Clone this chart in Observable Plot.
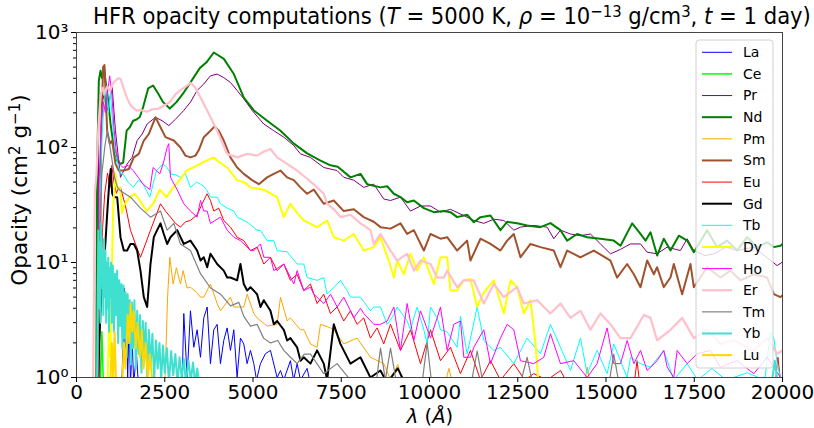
<!DOCTYPE html>
<html>
<head>
<meta charset="utf-8">
<script src="https://cdn.jsdelivr.net/npm/d3@7"></script>
<script src="https://cdn.jsdelivr.net/npm/@observablehq/plot@0.6"></script>
<style>
  body { margin: 0; background: #fff; overflow: hidden; }
  #wrap { position: relative; width: 814px; height: 428px; font-family: "DejaVu Sans", sans-serif; color: #000; }
  #wrap svg { position: absolute; left: 0; top: 0; }
  .lbl { position: absolute; white-space: nowrap; line-height: 1; }
  .lbl sup { font-size: 0.7em; vertical-align: 0.45em; line-height: 0; }
  #title { left: 93px; top: 5px; font-size: 23px; transform: scaleX(0.92); transform-origin: 0 0; }
  #ylab { left: 20px; top: 190px; font-size: 21.5px; transform: translate(-50%, -50%) rotate(-90deg); }
  #xlab { left: 430px; top: 407px; font-size: 19.5px; transform: translateX(-50%); }
</style>
</head>
<body>
<div id="wrap"></div>
<script>
// ---- data: [wavelength (Å), opacity (cm^2 g^-1)] ----
const elements = ["La","Ce","Pr","Nd","Pm","Sm","Eu","Gd","Tb","Dy","Ho","Er","Tm","Yb","Lu"];
const colors = ["#0000ff","#00ff00","#800080","#008000","#ffa500","#a0522d","#ff0000","#000000","#00ffff","#ffff00","#ff00ff","#ffc0cb","#808080","#40e0d0","#ffd700"];
const widths = [1,1.5,1,2,1,2,1,2,1,2,1,2.2,1.2,2,2];

const xTicks = [0,2500,5000,7500,10000,12500,15000,17500,20000];
const yTicks = [1,10,100,1000];
const yTickLabels = ["10⁰","10¹","10²","10³"];
const yMinorTicks = [2,3,4,5,6,7,8,9,20,30,40,50,60,70,80,90,200,300,400,500,600,700,800,900];

const La = [[1280,0.8],[1320,2],[1350,6],[1380,1.5],[1420,4],[1450,1],[1490,3],[1530,0.9],[1580,2],[1620,0.9],[1700,1.6],[1750,0.9],[2992,0.9],[3040,3.6],[3134,1],[3228,3.8],[3323,1.83],[3417,2.6],[3512,1.5],[3606,3.3],[3702,4.1],[3795,1.32],[3889,2.6],[3984,2.9],[4078,1.32],[4172,2.1],[4267,2.7],[4361,1.72],[4456,2.6],[4550,1.0],[4644,2.2],[4739,1.96],[4833,1.32],[4928,1.72],[5023,1.32],[5100,0.95],[5211,1.32],[5352,1.61],[5494,1.72],[5683,1.0],[5779,1.15],[5870,0.95],[6060,1.4],[6150,0.95],[6251,1.32],[6345,0.95],[6532,1.2],[6620,0.9]];
const Ce = [[600,0.8],[640,1.5],[680,0.9],[720,2.5],[760,0.9]];
const Pr = [[600,0.8],[632,272],[700,225],[774,283],[868,210],[1010,334],[1104,140],[1246,55],[1340,63],[1435,72],[1576,82],[1718,115],[1860,131],[2001,160],[2237,183],[2426,171],[2615,155],[2804,176],[3040,210],[3228,248],[3417,313],[3606,357],[3795,420],[3984,435],[4172,405],[4361,368],[4550,313],[4739,265],[4975,210],[5305,160],[5588,140],[5872,123],[6155,104],[6343,88],[6627,82],[7004,67],[7382,63],[7571,55],[7854,52],[8137,45],[8420,48],[8704,35.7],[8895,34.6],[9178,37],[9462,28],[9745,31],[10028,31],[10311,27.4],[10594,29],[10972,25.6],[11255,23.2],[11538,21.9],[11822,23.8],[12105,23.2],[12388,19.1],[12577,20.3],[12954,21],[13332,20.3],[13521,16.1],[13710,19.1],[13993,17.7],[14276,17.1],[14559,17.7],[14842,14.5],[15126,11.9],[15409,13],[15692,14.5],[15977,14.5],[16164,12.3],[16447,11.9],[16730,13.6],[17108,12.7],[17299,16.1],[17488,12.7],[17800,11.5],[18054,11.9],[18400,13.6],[18715,12.7],[19187,13.6],[19565,11],[19848,9.4],[20000,10.1]];
const Nd = [[560,0.8],[585,63],[632,380],[680,465],[727,400],[774,500],[821,380],[887,272],[963,162],[1057,100],[1152,77],[1246,72],[1322,74],[1420,140],[1510,150],[1605,171],[1700,175],[1794,184],[1888,225],[2030,326],[2171,346],[2313,295],[2454,248],[2643,218],[2832,248],[3021,295],[3257,380],[3493,490],[3682,550],[3890,670],[4174,590],[4457,435],[4740,272],[5023,210],[5401,171],[5779,140],[6157,108],[6534,89],[6912,77],[7196,70],[7400,68],[7762,55],[8046,59],[8234,48],[8612,45],[8801,46],[8990,39.6],[9178,37],[9367,33.4],[9556,34.6],[9840,29.7],[10122,27.4],[10406,28],[10594,27.4],[10783,24.8],[11066,26],[11255,22.4],[11444,24.8],[11727,25.6],[12010,19.1],[12199,22.6],[12482,21.9],[12766,21],[13143,20.3],[13426,22],[13710,19.1],[13898,15.5],[14182,17.7],[14465,16.6],[14842,16.1],[15220,15.5],[15411,14],[15741,21.9],[15977,17.7],[16119,15.5],[16261,18.3],[16449,11.5],[16638,16.1],[16827,12.7],[17063,17.1],[17299,15.5],[17488,12.3],[17865,19.1],[18149,13.6],[18432,15.5],[18715,12.7],[18998,16.6],[19282,13.6],[19565,15],[19754,13.6],[19943,14],[20000,14.5]];
const Pm = [[2500,0.8],[2580,5],[2643,11.1],[2738,6.5],[2830,9],[2945,6.5],[3021,8.5],[3130,6],[3228,6.1],[3400,5.5],[3513,5],[3606,5.0],[3796,6.5],[3984,4.4],[4080,3.8],[4361,5],[4457,4.1],[4739,4.1],[4835,5.3],[5023,3.6],[5116,3.3],[5401,2.8],[5683,2.9],[5779,5.0],[5967,3.1],[6060,3.3],[6345,2.6],[6438,2.6],[6628,1.96],[6816,1.83],[6912,2.9],[7193,2.7],[7290,2.6],[7571,1.96],[7948,2.2],[8326,1.5],[8704,1.32],[8900,0.95],[9100,1.3],[9250,0.9],[10450,0.9],[10550,1.2],[10650,0.9],[14400,0.9],[14466,1.23],[14550,0.9]];
const Sm = [[640,0.8],[700,140],[755,500],[793,520],[831,272],[868,140],[944,108],[1010,115],[1104,72],[1199,63],[1340,63],[1482,65],[1624,82],[1765,88],[1907,115],[2048,131],[2237,183],[2379,150],[2520,123],[2756,115],[2945,100],[3087,85],[3228,82],[3370,85],[3464,95],[3606,123],[3795,140],[3908,152],[4031,140],[4172,115],[4361,82],[4550,67],[4739,59],[4975,52],[5164,48],[5400,55],[5588,59],[5777,63],[5966,55],[6155,52],[6343,45],[6532,39.6],[6721,43],[7004,32.4],[7288,34.6],[7571,28],[7854,29],[8137,24.8],[8420,22.6],[8612,20.3],[8895,19.7],[9178,21.9],[9367,17.7],[9556,19.1],[9840,12.7],[10028,17.7],[10311,16.1],[10500,16.6],[10783,12.7],[11066,15.5],[11161,10.4],[11444,16.1],[11727,14.5],[12010,12.7],[12199,15.5],[12388,17.7],[12577,11.1],[12860,14.5],[13143,13.6],[13521,12.7],[13710,9.1],[13898,12.7],[14276,11.1],[14654,12.7],[15126,10.4],[15314,7.4],[15598,9.7],[15789,7.9],[15977,6.1],[16166,10.4],[16355,7.9],[16447,9.1],[16636,6.1],[16827,7.4],[16921,9.7],[17157,5.3],[17393,9.7],[17488,6.1],[17865,9.1],[18243,7.4],[18526,8.5],[18809,7.0],[19187,7.9],[19565,7.4],[19754,5.3],[19943,5.0],[20000,5.2]];
const Eu = [[620,0.8],[680,5],[740,20],[800,40],[880,60],[950,45],[1000,70],[1060,50],[1130,40],[1200,45],[1246,45],[1388,31],[1529,19.1],[1671,14.5],[1812,11.1],[1954,14.5],[2096,19.1],[2237,24.8],[2379,32.4],[2520,28],[2662,24.8],[2804,21.9],[2945,20.3],[3087,22.6],[3228,23.2],[3417,26],[3559,32.4],[3700,39.6],[3795,34.6],[3889,28],[4031,29.7],[4172,23.2],[4361,20.3],[4550,16.6],[4739,15.5],[4928,12.7],[5116,13.6],[5305,9.7],[5494,11.1],[5683,8.5],[5872,9.7],[6060,7.0],[6249,7.9],[6438,5.7],[6627,6.5],[6816,4.4],[7004,5.3],[7193,3.6],[7382,4.1],[7571,3.1],[7760,3.8],[7948,2.9],[8137,3.3],[8326,2.2],[8515,2.7],[8704,1.96],[8895,2.9],[9178,1.72],[9462,2.6],[9745,1.32],[10028,2.6],[10311,1.4],[10594,1.83],[10877,1.08],[11161,1.72],[11444,0.95],[11727,1.4],[12010,0.95],[12388,1.32],[12700,0.95],[12954,1.08],[13332,0.95],[13710,1.15],[13898,0.9],[15800,0.9],[15880,1.4],[15950,0.9],[19800,0.9],[19870,1.5],[19950,0.9]];
const Gd = [[600,0.8],[640,2],[700,5],[760,8],[820,15],[880,30],[930,50],[970,65],[1010,40],[1060,37],[1152,37],[1246,16.6],[1340,12.7],[1435,12.7],[1529,14.5],[1624,14.5],[1718,12.7],[1812,8.5],[1907,5.0],[2001,4.1],[2096,9.7],[2190,16.6],[2284,19.1],[2379,21.9],[2473,17.7],[2568,14.5],[2662,16.6],[2851,19.1],[3040,14.5],[3228,15.5],[3417,12.7],[3513,10.4],[3606,11.1],[3702,9.1],[3795,11.9],[3984,9.7],[4172,8.5],[4268,7.4],[4361,7.4],[4550,7.0],[4644,9.7],[4739,6.5],[4835,5.7],[4928,6.1],[5116,5.3],[5212,4.1],[5305,4.7],[5494,3.8],[5590,2.9],[5683,3.1],[5872,2.6],[5967,2.1],[6060,2.2],[6249,1.83],[6345,1.4],[6438,1.5],[6627,1.32],[6816,1.72],[7004,1.32],[7100,0.95],[7288,2.9],[7476,1.96],[7760,1.32],[8043,1.5],[8326,1.0],[8609,1.15],[8800,0.9],[9100,1.2],[9300,0.9]];
const Tb = [[600,0.8],[650,20],[720,120],[780,250],[850,330],[900,200],[960,300],[1030,150],[1100,90],[1180,70],[1250,60],[1322,59],[1460,50],[1605,45],[1750,52],[1888,48],[2077,37],[2266,63],[2454,72],[2568,67],[2662,59],[2800,58],[2945,55],[3080,60],[3228,45],[3400,50],[3513,48],[3606,46],[3702,42],[3795,37],[3985,37],[4078,32.4],[4268,29.7],[4456,28],[4551,24.8],[4833,22.5],[5118,19.1],[5211,19],[5401,15.5],[5588,15.5],[5684,12.7],[5966,12.4],[6251,9.7],[6438,9.7],[6534,7.4],[6817,7],[7004,7.4],[7100,5.3],[7384,6.5],[7479,7],[7665,5.7],[7762,5],[8043,5],[8329,3.8],[8420,4.1],[8612,4.1],[8801,2.9],[8990,3.5],[9084,4.1],[9273,3.4],[9367,3.1],[9462,2.6],[9556,3.3],[9650,4.1],[9840,2.6],[9934,1.96],[10028,4.1],[10217,3.3],[10311,2.6],[10500,2.5],[10783,1.83],[10878,3.4],[11066,1.6],[11350,4.1],[11538,2.1],[11822,1.72],[12010,1.83],[12388,1.32],[12766,2.2],[13143,1.61],[13426,2.9],[13710,1.83],[13993,1.15],[14276,2.2],[14465,1.08],[14748,1.72],[15031,1.08],[15220,1.96],[15598,1.0],[15694,1.5],[15975,1.32],[16261,1.23],[16636,1.72],[16919,0.95],[17297,1.32],[17600,0.95],[18000,1.2],[18400,0.95],[19000,1.1],[19500,0.95],[19660,2.5],[19754,2.2],[19850,1.32],[19943,1.0],[20000,0.95]];
const Dy = [[880,0.8],[920,3],[960,1.5],[1000,8],[1040,30],[1100,60],[1150,45],[1227,45],[1290,27],[1369,32.4],[1510,37],[1652,39.6],[1794,34.6],[1982,28],[2171,32.4],[2360,43],[2549,37],[2738,45],[2926,52],[3115,63],[3304,67],[3493,72],[3682,77],[3889,82],[3984,77],[4268,67],[4550,52],[4740,50],[4928,45],[5305,43],[5683,37],[5872,24.8],[6060,32.4],[6250,27],[6438,23.2],[6816,20.3],[7099,23.2],[7288,16.6],[7571,15.5],[7854,17.7],[8137,12.7],[8420,13.6],[8609,16.6],[8845,10.4],[8990,7.4],[9084,10.4],[9273,7.9],[9462,11.9],[9650,8.5],[9840,11.1],[10122,6.5],[10311,11.1],[10500,11.1],[10594,5.7],[10783,5.7],[10972,7],[11161,7.2],[11351,4.1],[11540,5.5],[11823,7],[12106,3.6],[12295,7],[12484,6.1],[12672,3.6],[12861,4.7],[13000,2.0],[13100,0.8]];
const Ho = [[600,0.8],[640,50],[700,160],[760,250],[820,200],[880,300],[940,420],[1000,300],[1060,150],[1130,90],[1250,70],[1322,67],[1460,70],[1605,63],[1750,55],[1888,48],[2077,43],[2171,67],[2360,59],[2470,75],[2568,100],[2615,108],[2662,55],[2851,43],[3040,32.4],[3228,28],[3417,24.8],[3513,34.6],[3606,28],[3702,28],[3795,21.9],[4078,24.8],[4268,19.1],[4457,16.6],[4644,15.5],[4740,14.5],[4928,12.7],[5023,12.7],[5211,14.5],[5307,11.1],[5494,11.1],[5590,8.5],[5873,9.7],[6157,6.5],[6250,8.5],[6440,5.7],[6627,6.1],[6723,5.3],[7006,4.4],[7196,5.3],[7385,4.1],[7570,5],[7760,3.8],[7857,3.3],[8046,4.0],[8137,3.6],[8423,2.9],[8612,2.9],[8801,3.1],[8990,4.1],[9178,1.72],[9367,4.4],[9556,2.1],[9745,3.8],[10028,2.2],[10217,3.3],[10311,4.1],[10500,1.72],[10689,2.9],[10878,3.1],[10972,1.5],[11161,1.5],[11255,1.83],[11538,2.6],[11727,1.32],[12010,2.2],[12199,2.9],[12388,2.6],[12577,1.4],[12954,1.32],[13238,1.5],[13426,2.4],[13710,1.32],[14087,1.4],[14465,1.0],[14748,1.32],[15031,2.7],[15220,1.32],[15411,1.32],[15600,2.1],[15789,1.32],[15977,1.72],[16166,1.15],[16449,1.4],[16636,1.72],[16733,1.23],[16919,1.0],[17016,1.72],[17299,1.32],[17582,1.61],[17959,1.72],[18243,1.23],[18715,1.4],[19187,1.08],[19565,1.5],[19943,1.0]];
const Er = [[470,0.8],[520,40],[566,59],[620,150],[680,280],[740,330],[800,300],[870,340],[950,310],[1030,360],[1100,380],[1180,400],[1250,395],[1330,330],[1430,270],[1540,230],[1700,210],[1860,210],[2000,205],[2150,215],[2330,218],[2520,235],[2650,250],[2800,290],[2950,315],[3100,340],[3230,365],[3370,330],[3513,272],[3702,210],[3985,140],[4268,88],[4551,82],[4835,88],[5118,85],[5300,92],[5495,97],[5684,82],[5967,72],[6250,63],[6534,53.5],[6817,45],[7006,39.6],[7100,32.4],[7290,29],[7479,24.8],[7762,26],[8046,21.9],[8329,19.1],[8423,14.5],[8612,17.7],[8895,12.7],[9084,10.4],[9367,11.9],[9556,8.5],[9745,10.4],[10028,9.7],[10217,7.4],[10406,7.4],[10500,8.5],[10783,6.1],[10972,7],[11255,7],[11538,4.4],[11822,6.5],[12105,5.0],[12482,6.1],[12671,4.4],[13049,4.7],[13426,3.6],[13710,4.4],[13993,3.3],[14276,3.8],[14559,2.6],[14842,3.6],[15126,2.9],[15409,2.2],[15694,2.2],[16072,3.5],[16261,3.3],[16449,2.1],[16827,2.6],[17157,3.3],[17488,2.2],[17865,2.6],[18243,1.96],[18621,2.1],[19187,1.72],[19565,2.2],[19848,1.61],[20000,1.72]];
const Tm = [[600,0.8],[660,20],[720,60],[800,100],[870,140],[930,110],[1000,80],[1080,55],[1160,45],[1246,42],[1529,37],[1812,29.7],[2096,24.8],[2379,28],[2568,19.1],[2757,21.9],[2945,14.5],[3228,12.7],[3513,8],[3796,6],[4080,5.3],[4363,4.2],[4600,4.5],[4739,3.4],[4929,2.8],[5116,2.9],[5300,2.2],[5495,2.0],[5700,2.1],[5872,1.72],[6062,1.5],[6250,1.32],[6450,1.6],[6627,1.6],[7004,1.08],[7382,1.32],[7760,0.95],[8500,0.95],[8612,1.8],[8750,0.95],[8895,1.8],[9050,0.95],[9800,0.95],[9934,2.0],[10050,0.95],[11200,0.95],[11350,1.7],[11500,0.95],[12600,0.95],[12766,1.5],[12900,0.95],[15100,0.95],[15220,1.6],[15350,0.95]];
const Yb = [[580,0.8],[600,5],[620,19],[640,4],[660,15],[680,3],[700,22],[720,6],[740,12],[760,3.5],[780,16],[800,5],[820,12.7],[840,3],[860,10],[880,4],[900,11],[920,2.5],[940,9],[960,5],[980,10],[1000,3],[1030,9.4],[1060,2.5],[1090,8],[1120,3.5],[1150,8.5],[1180,2],[1210,7],[1240,2.8],[1270,6.5],[1300,1.8],[1330,6.3],[1360,2.2],[1390,5.5],[1420,1.5],[1450,5.3],[1480,2],[1510,4.7],[1540,1.3],[1570,4.5],[1600,1.8],[1640,4.7],[1680,1.2],[1720,3.8],[1760,1.6],[1800,3.5],[1840,1.1],[1880,3.1],[1920,1.5],[1960,3.0],[2000,1.0],[2050,2.6],[2100,1.3],[2150,2.4],[2200,0.95],[2250,2.1],[2300,1.2],[2350,2.0],[2400,0.95],[2450,1.9],[2500,1.1],[2560,1.8],[2620,0.9],[2680,1.7],[2740,1.05],[2800,1.6],[2860,0.9],[2920,1.5],[2980,1.0],[3040,1.45],[3100,0.9],[3170,1.4],[3240,0.95],[3300,1.35],[3360,0.9],[3420,1.2],[3480,0.85],[19700,0.9],[19780,1.4],[19860,0.9]];
const Lu = [[950,0.8],[1000,2],[1040,1],[1080,2.5],[1120,0.9],[1300,0.9],[1340,2],[1390,1.2],[1450,3.5],[1500,2],[1530,4.4],[1580,2.5],[1620,3.8],[1680,1.8],[1730,3],[1800,1.5],[1850,2.6],[1900,1.2],[1960,2],[2020,1],[2080,1.6],[2150,0.9]];

const seriesData = [La,Ce,Pr,Nd,Pm,Sm,Eu,Gd,Tb,Dy,Ho,Er,Tm,Yb,Lu];

// ---- chart ----
const W = 814, H = 428;
const lineMarks = seriesData.map((d, i) => Plot.line(d, {
  x: p => p[0], y: p => p[1],
  stroke: colors[i], strokeWidth: widths[i],
  strokeLinejoin: "round", clip: true
}));

const chart = Plot.plot({
  width: W, height: H,
  marginLeft: 76, marginRight: 32, marginTop: 32, marginBottom: 51,
  style: { fontFamily: "DejaVu Sans, sans-serif", fontSize: "20px", color: "#000", background: "transparent", overflow: "visible" },
  x: { domain: [0, 20000] },
  y: { type: "log", domain: [1, 1000] },
  marks: [
    ...lineMarks,
    Plot.frame({ stroke: "#444", strokeWidth: 1 }),
    Plot.axisX(xTicks, { tickSize: 5, tickPadding: 2, tickFormat: d => String(d), label: null }),
    Plot.axisY(yTicks, { tickSize: 5, tickPadding: 3, tickFormat: d => yTickLabels[yTicks.indexOf(d)], label: null }),
    Plot.axisY(yMinorTicks, { tickSize: 3, tickFormat: () => "", label: null })
  ]
});

const wrap = document.getElementById("wrap");
wrap.appendChild(chart);

// ---- legend (inside axes, upper right) ----
const leg = d3.create("svg").attr("width", W).attr("height", H);
const lx = 696, ly = 40, lw = 77, lh = 328, rowH = 21.63;
leg.append("rect").attr("x", lx).attr("y", ly).attr("width", lw).attr("height", lh)
  .attr("rx", 3).attr("fill", "rgba(255,255,255,0.8)").attr("stroke", "#d0d0d0");
elements.forEach((name, i) => {
  const y = ly + 12.3 + i * rowH;
  leg.append("line").attr("x1", lx + 6).attr("x2", lx + 36).attr("y1", y).attr("y2", y)
    .attr("stroke", colors[i]).attr("stroke-width", widths[i]);
  leg.append("text").attr("x", lx + 47).attr("y", y).attr("dy", "0.35em")
    .attr("font-family", "DejaVu Sans, sans-serif").attr("font-size", 14).attr("fill", "#000").text(name);
});
wrap.appendChild(leg.node());

// ---- title and axis labels ----
const title = document.createElement("div");
title.id = "title"; title.className = "lbl";
title.innerHTML = 'HFR opacity computations (<i>T</i> = 5000 K, <i>ρ</i> = 10<sup>−13</sup> g/cm<sup>3</sup>, <i>t</i> = 1 day)';
wrap.appendChild(title);

const ylab = document.createElement("div");
ylab.id = "ylab"; ylab.className = "lbl";
ylab.innerHTML = 'Opacity (cm<sup>2</sup> g<sup>−1</sup>)';
wrap.appendChild(ylab);

const xlab = document.createElement("div");
xlab.id = "xlab"; xlab.className = "lbl";
xlab.innerHTML = '<i>λ</i> (<i>Å</i>)';
wrap.appendChild(xlab);
</script>
</body>
</html>
